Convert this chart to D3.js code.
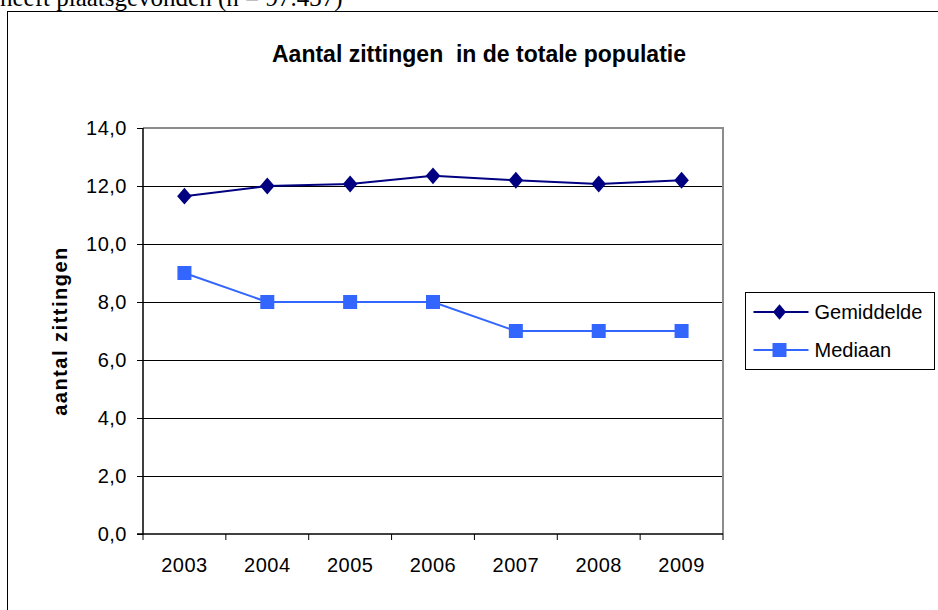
<!DOCTYPE html>
<html lang="nl">
<head>
<meta charset="UTF-8">
<title>Aantal zittingen in de totale populatie</title>
<style>
  body { margin: 0; background: #fff; }
  svg { display: block; font-family: Arial, "Liberation Sans", sans-serif; }
</style>
</head>
<body>
<div id="chart"></div>
<script src="https://cdnjs.cloudflare.com/ajax/libs/d3/7.8.5/d3.min.js"></script>
<script>
const years = ["2003", "2004", "2005", "2006", "2007", "2008", "2009"];
const gemiddelde = [11.65, 12.0, 12.07, 12.35, 12.2, 12.07, 12.2];
const mediaan = [9, 8, 8, 8, 7, 7, 7];
const yTicks = [0, 2, 4, 6, 8, 10, 12, 14];

const width = 938, height = 610;
const plot = { left: 143, right: 723, top: 128, bottom: 534 };

const svg = d3.select("#chart").append("svg")
    .attr("width", width)
    .attr("height", height);

// tekst boven de grafiek (afgesneden)
svg.append("text")
    .attr("x", 0)
    .attr("y", 6)
    .style("font-family", "'Liberation Serif', 'Times New Roman', serif")
    .style("font-size", "25px")
    .text("heeft plaatsgevonden (n = 97.437)");

// kader om de grafiek
svg.append("rect")
    .attr("x", 7.5).attr("y", 11.5)
    .attr("width", 960).attr("height", 700)
    .attr("fill", "none")
    .attr("stroke", "#000");

const x = d3.scaleBand().domain(years).range([plot.left, plot.right]);
const y = d3.scaleLinear().domain([0, 14]).range([plot.bottom, plot.top]);

// rasterlijnen
svg.append("g")
    .selectAll("line")
    .data(yTicks.filter(d => d > 0 && d < 14))
    .join("line")
    .attr("x1", plot.left).attr("x2", plot.right)
    .attr("y1", d => Math.round(y(d)) + 0.5).attr("y2", d => Math.round(y(d)) + 0.5)
    .attr("stroke", "#000");

// grijze rand boven en rechts
svg.append("path")
    .attr("d", `M${plot.left},${plot.top}H${plot.right}V${plot.bottom}`)
    .attr("fill", "none")
    .attr("stroke", "#8c8c8c")
    .attr("stroke-width", 2);

// y-as
const yAxis = svg.append("g")
    .attr("transform", `translate(${plot.left},0)`)
    .call(d3.axisLeft(y).tickValues(yTicks).tickSize(6).tickPadding(10)
        .tickFormat(d => d3.format(".1f")(d).replace(".", ",")));

// x-as
const xAxis = svg.append("g")
    .attr("transform", `translate(0,${plot.bottom})`)
    .call(d3.axisBottom(x).tickSize(0).tickPadding(24));

xAxis.selectAll(".tick-sep")
    .data(d3.range(years.length + 1))
    .join("line")
    .attr("x1", i => plot.left + i * x.step())
    .attr("x2", i => plot.left + i * x.step())
    .attr("y1", 0).attr("y2", 6)
    .attr("stroke", "#000");

[yAxis, xAxis].forEach(g => {
  g.select(".domain").attr("stroke", "#000").attr("stroke-width", 1.5);
  g.selectAll("text").style("font-size", "20px").attr("fill", "#000")
      .style("letter-spacing", "0.5px")
      .style("font-family", "Arial, 'Liberation Sans', sans-serif");
});
yAxis.select(".domain").attr("d", `M-6,${plot.bottom}H0V${plot.top}`);
xAxis.select(".domain").attr("d", `M${plot.left},0H${plot.right}`);

// titel
svg.append("text")
    .attr("x", 479).attr("y", 62)
    .attr("text-anchor", "middle")
    .attr("xml:space", "preserve")
    .style("font-size", "23px")
    .style("font-weight", "bold")
    .text("Aantal zittingen  in de totale populatie");

// y-as titel
svg.append("text")
    .attr("transform", `translate(67,${(plot.top + plot.bottom) / 2}) rotate(-90)`)
    .attr("text-anchor", "middle")
    .style("font-size", "20px")
    .style("font-weight", "bold")
    .style("letter-spacing", "1.5px")
    .text("aantal zittingen");

const cx = (d, i) => x(years[i]) + x.bandwidth() / 2;
const line = d3.line().x(cx).y(d => y(d));

const diamond = d3.symbol().type(d3.symbolDiamond2).size(150);

// Mediaan
svg.append("path")
    .datum(mediaan)
    .attr("d", line)
    .attr("fill", "none")
    .attr("stroke", "#3366ff")
    .attr("stroke-width", 2);
svg.append("g").selectAll("rect")
    .data(mediaan)
    .join("rect")
    .attr("x", (d, i) => cx(d, i) - 7)
    .attr("y", d => y(d) - 7)
    .attr("width", 14).attr("height", 14)
    .attr("fill", "#3366ff");

// Gemiddelde
svg.append("path")
    .datum(gemiddelde)
    .attr("d", line)
    .attr("fill", "none")
    .attr("stroke", "#000080")
    .attr("stroke-width", 2);
svg.append("g").selectAll("path")
    .data(gemiddelde)
    .join("path")
    .attr("d", diamond)
    .attr("transform", (d, i) => `translate(${cx(d, i)},${y(d)}) scale(0.95,1.1)`)
    .attr("fill", "#000080");

// legenda
const legend = svg.append("g").attr("transform", "translate(745.5,292.5)");
legend.append("rect")
    .attr("width", 189).attr("height", 77)
    .attr("fill", "#fff").attr("stroke", "#000");

const items = [
  { name: "Gemiddelde", color: "#000080", shape: "diamond" },
  { name: "Mediaan", color: "#3366ff", shape: "square" }
];
const li = legend.selectAll(".item")
    .data(items)
    .join("g")
    .attr("transform", (d, i) => `translate(0,${19.5 + i * 38})`);
li.append("line")
    .attr("x1", 8).attr("x2", 63)
    .attr("stroke", d => d.color).attr("stroke-width", 2);
li.each(function(d) {
  const g = d3.select(this);
  if (d.shape === "diamond") {
    g.append("path").attr("d", diamond).attr("transform", "translate(34,0) scale(0.85,1)")
        .attr("fill", d.color);
  } else {
    g.append("rect").attr("x", 27).attr("y", -7).attr("width", 14).attr("height", 14)
        .attr("fill", d.color);
  }
});
li.append("text")
    .attr("x", 69).attr("y", 7)
    .style("font-size", "20px")
    .text(d => d.name);
</script>
</body>
</html>
